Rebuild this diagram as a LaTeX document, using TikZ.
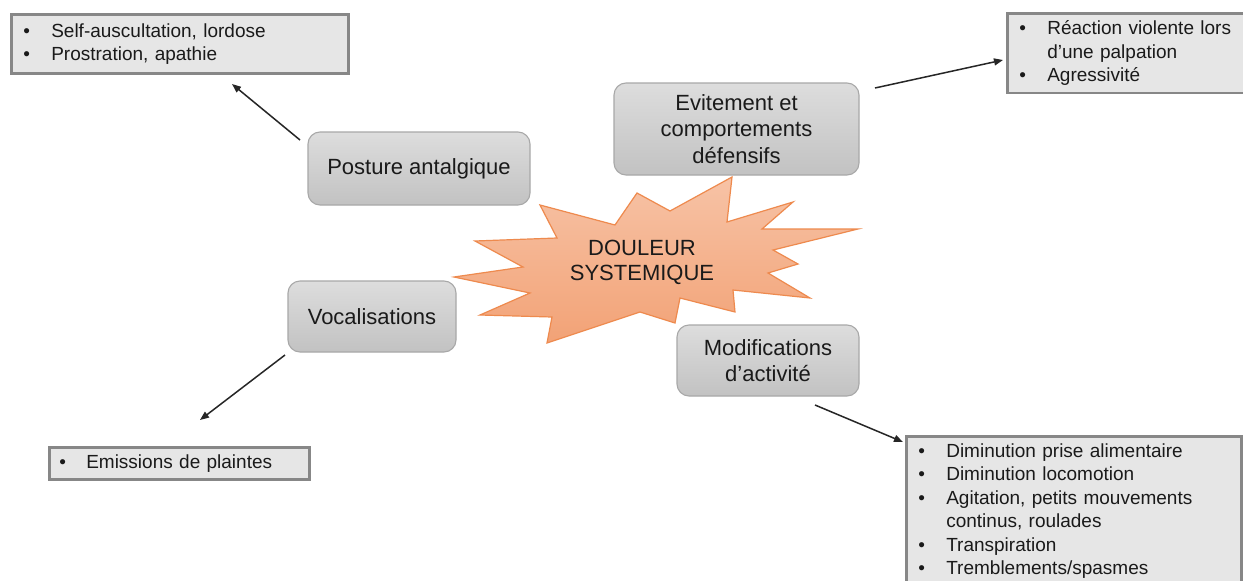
\documentclass[tikz,border=0pt]{standalone}
\usepackage{fontspec}
\setmainfont{Liberation Sans}
\usetikzlibrary{arrows.meta}
\definecolor{txt}{HTML}{1A1A1A}
\definecolor{listfill}{HTML}{E6E6E6}
\definecolor{listedge}{HTML}{878787}
\definecolor{boxtop}{HTML}{DDDDDD}
\definecolor{boxbot}{HTML}{C2C2C2}
\definecolor{boxedge}{HTML}{A8A8A8}
\definecolor{startop}{HTML}{F7C3A6}
\definecolor{starbot}{HTML}{F2A276}
\definecolor{staredge}{HTML}{EE8A4E}
\definecolor{arrowcol}{HTML}{262626}
\newcommand\bul{\makebox[28pt][l]{\textbullet}}
\newcommand\bulshort{\makebox[27pt][l]{\textbullet}}
\newcommand\cont{\hspace*{28pt}}
\tikzset{
  rbox/.style={rectangle, rounded corners=12pt, draw=boxedge, line width=1.1pt,
    top color=boxtop, bottom color=boxbot, align=center, text=txt,
    font=\fontsize{22}{26.4}\selectfont, inner sep=0pt},
  listbox/.style={rectangle, draw=listedge, line width=2.6pt, fill=listfill,
    align=left, text=txt, inner xsep=12pt, inner ysep=7.5pt,
    font=\fontsize{19}{23.4}\selectfont},
  conn/.style={draw=arrowcol, line width=1.5pt,
    -{Triangle[length=9pt,width=7pt]}},
  startext/.style={align=center, text=txt, font=\fontsize{22}{25}\selectfont}
}
\begin{document}
\begin{tikzpicture}[x=1pt,y=-1pt]
\useasboundingbox[fill=white] (0,0) rectangle (1243,581);

% central burst
\shade[top color=startop, bottom color=starbot, draw=staredge, line width=1.2pt, line join=miter]
  (454,277) -- (523,267) -- (475,241) -- (557,238) -- (540,205) -- (615,225)
  -- (637,193) -- (670,211) -- (732,177) -- (727,222) -- (793,202) -- (762,229)
  -- (858,229) -- (773,250) -- (798,264) -- (768,273) -- (810,298) -- (733,290)
  -- (735,312) -- (680,298) -- (675,323) -- (640,312) -- (547,343) -- (552,317)
  -- (480,315) -- (530,293) -- cycle;
\node[startext] (center) at (642,262) {DOULEUR\\SYSTEMIQUE};

% category boxes
\node[rbox, minimum width=222pt, minimum height=73pt] (posture) at (419,168.5) {Posture antalgique};
\node[rbox, minimum width=245pt, minimum height=92pt] (evit) at (736.5,129) {Evitement et\\comportements\\défensifs};
\node[rbox, minimum width=168pt, minimum height=71pt] (vocal) at (372,316.5) {Vocalisations};
\node[rbox, minimum width=182pt, minimum height=71pt] (modif) at (768,360.5) {Modifications\\d’activité};

% symptom lists
\node[listbox, anchor=north west, text width=313pt, minimum height=59pt] (lpost) at (10,13)
  {\bul Self-auscultation, lordose\\\bul Prostration, apathie};
\node[listbox, anchor=north west, text width=260pt, minimum height=79pt] (levit) at (1006,12)
  {\bul Réaction violente lors\\\cont d’une palpation\\\bul Agressivité};
\node[listbox, anchor=north west, text width=240pt, minimum height=32pt, inner xsep=10pt, inner ysep=4pt] (lvocal) at (48,446)
  {\bulshort Emissions de plaintes};
\node[listbox, anchor=north west, text width=311pt] (lmodif) at (905,435)
  {\bul Diminution prise alimentaire\\\bul Diminution locomotion\\\bul Agitation, petits mouvements\\\cont continus, roulades\\\bul Transpiration\\\bul Tremblements/spasmes};

% connector end points
\coordinate (p1s) at (300,140);
\coordinate (p1e) at (232,84);
\coordinate (p2s) at (875,88);
\coordinate (p2e) at (1003,60);
\coordinate (p3s) at (285,355);
\coordinate (p3e) at (200,420);
\coordinate (p4s) at (815,405);
\coordinate (p4e) at (903,442);

\draw[conn] (p1s) -- (p1e);
\draw[conn] (p2s) -- (p2e);
\draw[conn] (p3s) -- (p3e);
\draw[conn] (p4s) -- (p4e);
\end{tikzpicture}
\end{document}
